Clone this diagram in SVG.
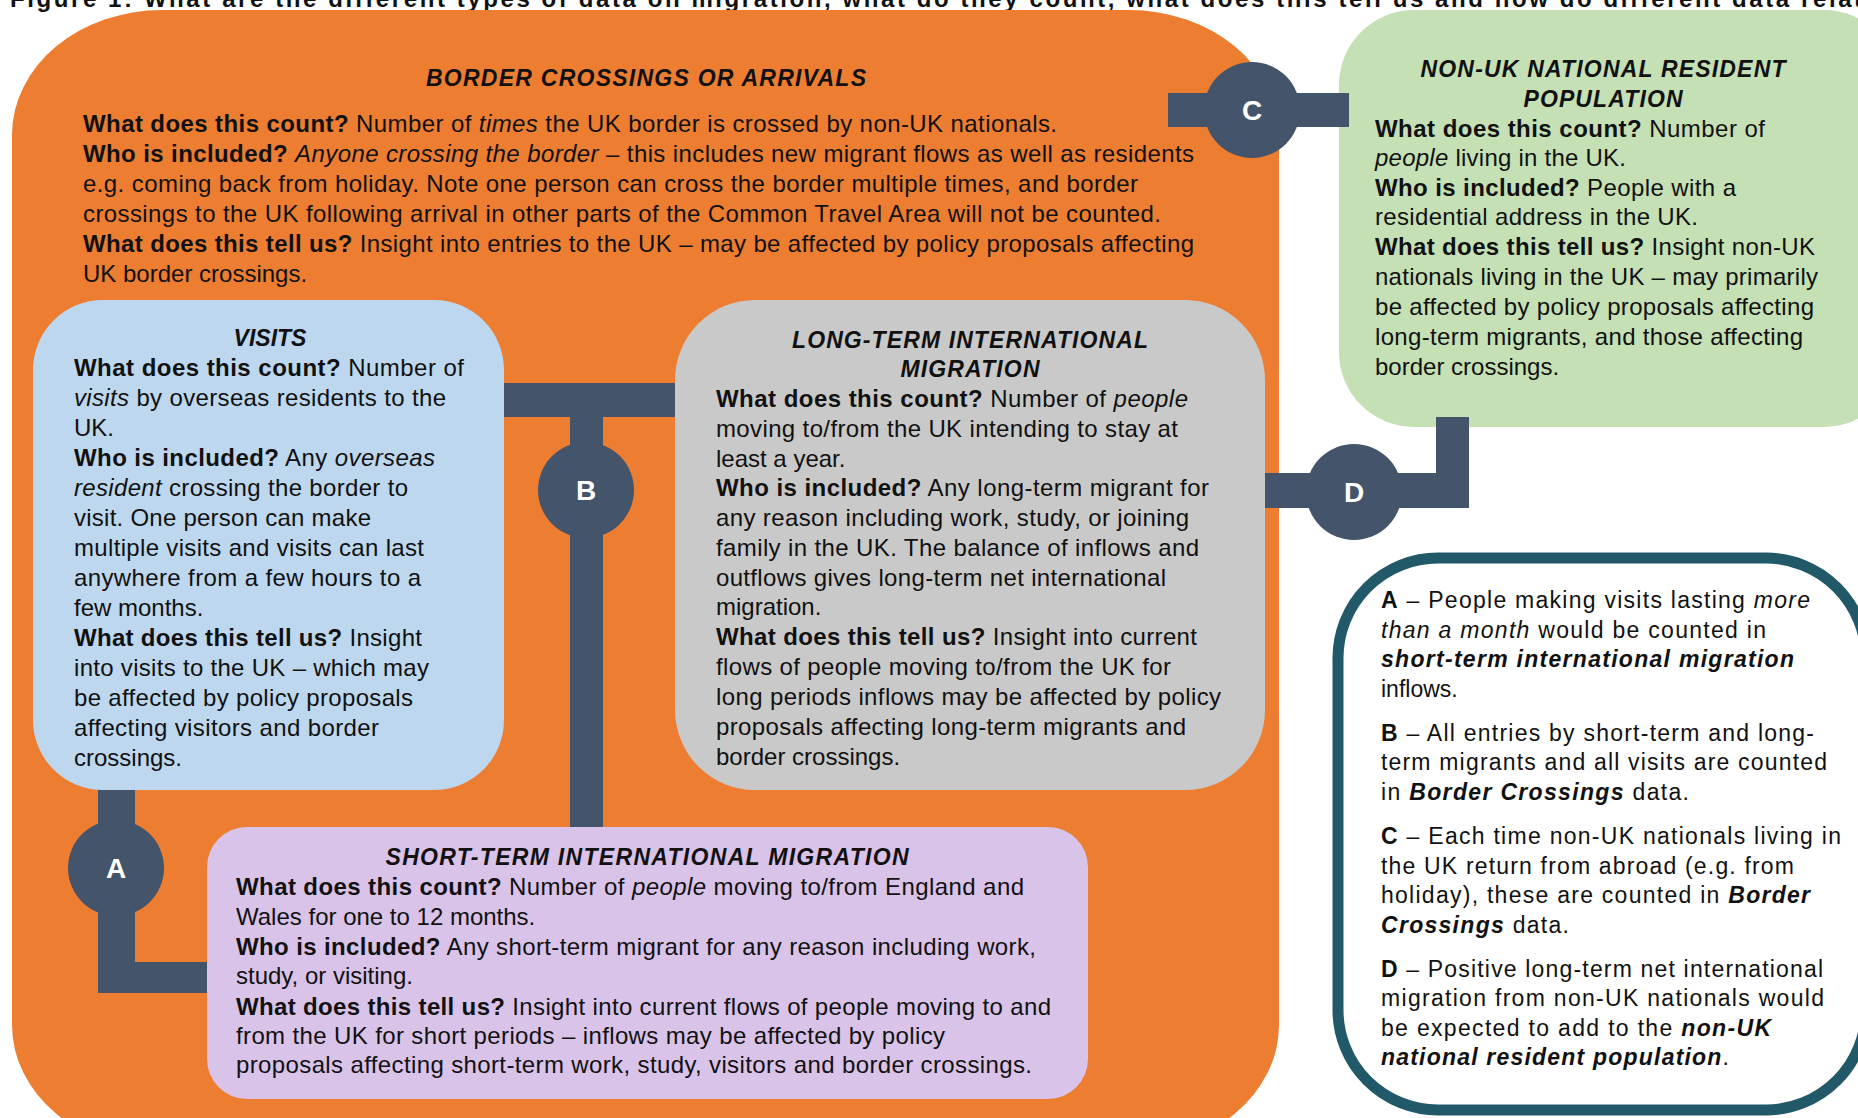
<svg xmlns="http://www.w3.org/2000/svg" width="1858" height="1118" viewBox="0 0 1858 1118">
<style>
text { font-family: "Liberation Sans", Arial, sans-serif; fill: #111; }
.t { font-size: 24px; }
.lg { font-size: 23px; }
.b { font-weight: bold; }
.i { font-style: italic; }
.bi { font-weight: bold; font-style: italic; }
.h { font-size: 23px; font-weight: bold; font-style: italic; text-anchor: middle; }
.lbl { font-size: 28px; font-weight: bold; fill: #ffffff; text-anchor: middle; }
.con { fill: #44546A; }
.fig { font-size: 24px; font-weight: bold; fill: #111; }
</style>
<rect x="0" y="0" width="1858" height="1118" fill="#ffffff"/>
<text class="fig" x="10" y="7" textLength="1868">Figure 1: What are the different types of data on migration, what do they count, what does this tell us and how do different data relate</text>

<g id="border-crossings">
<rect x="12" y="10" width="1267" height="1140" rx="150" ry="125" fill="#ED7D31"/>
<text class="h" x="646" y="86" textLength="440">BORDER CROSSINGS OR ARRIVALS</text>
<text class="t" x="83" y="132" textLength="974"><tspan class="b">What does this count?</tspan> Number of <tspan class="i">times</tspan> the UK border is crossed by non-UK nationals.</text>
<text class="t" x="83" y="162" textLength="1111"><tspan class="b">Who is included?</tspan> <tspan class="i">Anyone crossing the border</tspan> – this includes new migrant flows as well as residents</text>
<text class="t" x="83" y="192" textLength="1055">e.g. coming back from holiday. Note one person can cross the border multiple times, and border</text>
<text class="t" x="83" y="222" textLength="1078">crossings to the UK following arrival in other parts of the Common Travel Area will not be counted.</text>
<text class="t" x="83" y="252" textLength="1111"><tspan class="b">What does this tell us?</tspan> Insight into entries to the UK – may be affected by policy proposals affecting</text>
<text class="t" x="83" y="282">UK border crossings.</text>
</g>

<g id="non-uk-resident-population">
<rect x="1339" y="10" width="560" height="417" rx="75" ry="75" fill="#C5E0B4"/>
<text class="h" x="1603" y="77" textLength="365">NON-UK NATIONAL RESIDENT</text>
<text class="h" x="1603" y="107" textLength="159">POPULATION</text>
<text class="t" x="1375" y="137" textLength="390"><tspan class="b">What does this count?</tspan> Number of</text>
<text class="t" x="1375" y="166" textLength="251"><tspan class="i">people</tspan> living in the UK.</text>
<text class="t" x="1375" y="196" textLength="361"><tspan class="b">Who is included?</tspan> People with a</text>
<text class="t" x="1375" y="225" textLength="323">residential address in the UK.</text>
<text class="t" x="1375" y="255" textLength="440"><tspan class="b">What does this tell us?</tspan> Insight non-UK</text>
<text class="t" x="1375" y="285" textLength="443">nationals living in the UK – may primarily</text>
<text class="t" x="1375" y="315" textLength="439">be affected by policy proposals affecting</text>
<text class="t" x="1375" y="345" textLength="428">long-term migrants, and those affecting</text>
<text class="t" x="1375" y="375">border crossings.</text>
</g>

<g id="legend">
<rect x="1338" y="558" width="528" height="552" rx="100" ry="100" fill="#ffffff" stroke="#215968" stroke-width="11"/>
<text class="lg" x="1381" y="608" textLength="429"><tspan class="b">A</tspan> – People making visits lasting <tspan class="i">more</tspan></text>
<text class="lg" x="1381" y="638" textLength="385"><tspan class="i">than a month</tspan> would be counted in</text>
<text class="lg" x="1381" y="667" textLength="413"><tspan class="bi">short-term international migration</tspan></text>
<text class="lg" x="1381" y="697">inflows.</text>
<text class="lg" x="1381" y="741" textLength="433"><tspan class="b">B</tspan> – All entries by short-term and long-</text>
<text class="lg" x="1381" y="770" textLength="446">term migrants and all visits are counted</text>
<text class="lg" x="1381" y="800" textLength="308">in <tspan class="bi">Border Crossings</tspan> data.</text>
<text class="lg" x="1381" y="844" textLength="460"><tspan class="b">C</tspan> – Each time non-UK nationals living in</text>
<text class="lg" x="1381" y="874" textLength="413">the UK return from abroad (e.g. from</text>
<text class="lg" x="1381" y="903" textLength="429">holiday), these are counted in <tspan class="bi">Border</tspan></text>
<text class="lg" x="1381" y="933" textLength="188"><tspan class="bi">Crossings</tspan> data.</text>
<text class="lg" x="1381" y="977" textLength="442"><tspan class="b">D</tspan> – Positive long-term net international</text>
<text class="lg" x="1381" y="1006" textLength="443">migration from non-UK nationals would</text>
<text class="lg" x="1381" y="1036" textLength="390">be expected to add to the <tspan class="bi">non-UK</tspan></text>
<text class="lg" x="1381" y="1065" textLength="348"><tspan class="bi">national resident population</tspan>.</text>
</g>

<g id="connectors">
<g id="conn-A">
<rect class="con" x="98" y="770" width="37" height="223"/>
<rect class="con" x="98" y="962" width="120" height="31"/>
<circle class="con" cx="116" cy="868" r="48"/>
<text class="lbl" x="116" y="878">A</text>
</g>
<g id="conn-B">
<rect class="con" x="494" y="383" width="191" height="34"/>
<rect class="con" x="570" y="383" width="33" height="454"/>
<circle class="con" cx="586" cy="490" r="48"/>
<text class="lbl" x="586" y="500">B</text>
</g>
<g id="conn-C">
<rect class="con" x="1168" y="93" width="181" height="34"/>
<circle class="con" cx="1252" cy="110" r="48"/>
<text class="lbl" x="1252" y="120">C</text>
</g>
<g id="conn-D">
<rect class="con" x="1265" y="473" width="204" height="35"/>
<rect class="con" x="1436" y="417" width="33" height="91"/>
<circle class="con" cx="1354" cy="492" r="48"/>
<text class="lbl" x="1354" y="502">D</text>
</g>
</g>

<g id="visits">
<rect x="33" y="300" width="471" height="490" rx="70" ry="70" fill="#BDD7EE"/>
<text class="h" x="270" y="346">VISITS</text>
<text class="t" x="74" y="376" textLength="390"><tspan class="b">What does this count?</tspan> Number of</text>
<text class="t" x="74" y="406" textLength="372"><tspan class="i">visits</tspan> by overseas residents to the</text>
<text class="t" x="74" y="436">UK.</text>
<text class="t" x="74" y="466" textLength="361"><tspan class="b">Who is included?</tspan> Any <tspan class="i">overseas</tspan></text>
<text class="t" x="74" y="496" textLength="334"><tspan class="i">resident</tspan> crossing the border to</text>
<text class="t" x="74" y="526" textLength="297">visit. One person can make</text>
<text class="t" x="74" y="556" textLength="350">multiple visits and visits can last</text>
<text class="t" x="74" y="586" textLength="347">anywhere from a few hours to a</text>
<text class="t" x="74" y="616">few months.</text>
<text class="t" x="74" y="646" textLength="348"><tspan class="b">What does this tell us?</tspan> Insight</text>
<text class="t" x="74" y="676" textLength="355">into visits to the UK – which may</text>
<text class="t" x="74" y="706" textLength="339">be affected by policy proposals</text>
<text class="t" x="74" y="736" textLength="305">affecting visitors and border</text>
<text class="t" x="74" y="766">crossings.</text>
</g>

<g id="long-term-migration">
<rect x="675" y="300" width="590" height="490" rx="80" ry="80" fill="#C9C9C9"/>
<text class="h" x="970" y="348" textLength="356">LONG-TERM INTERNATIONAL</text>
<text class="h" x="970" y="377" textLength="139">MIGRATION</text>
<text class="t" x="716" y="407" textLength="472"><tspan class="b">What does this count?</tspan> Number of <tspan class="i">people</tspan></text>
<text class="t" x="716" y="437" textLength="462">moving to/from the UK intending to stay at</text>
<text class="t" x="716" y="467">least a year.</text>
<text class="t" x="716" y="496" textLength="493"><tspan class="b">Who is included?</tspan> Any long-term migrant for</text>
<text class="t" x="716" y="526" textLength="473">any reason including work, study, or joining</text>
<text class="t" x="716" y="556" textLength="483">family in the UK. The balance of inflows and</text>
<text class="t" x="716" y="586" textLength="450">outflows gives long-term net international</text>
<text class="t" x="716" y="615">migration.</text>
<text class="t" x="716" y="645" textLength="481"><tspan class="b">What does this tell us?</tspan> Insight into current</text>
<text class="t" x="716" y="675" textLength="455">flows of people moving to/from the UK for</text>
<text class="t" x="716" y="705" textLength="505">long periods inflows may be affected by policy</text>
<text class="t" x="716" y="735" textLength="470">proposals affecting long-term migrants and</text>
<text class="t" x="716" y="765">border crossings.</text>
</g>

<g id="short-term-migration">
<rect x="207" y="827" width="881" height="272" rx="40" ry="40" fill="#D9C3E9"/>
<text class="h" x="647" y="865" textLength="523">SHORT-TERM INTERNATIONAL MIGRATION</text>
<text class="t" x="236" y="895" textLength="788"><tspan class="b">What does this count?</tspan> Number of <tspan class="i">people</tspan> moving to/from England and</text>
<text class="t" x="236" y="925">Wales for one to 12 months.</text>
<text class="t" x="236" y="955" textLength="800"><tspan class="b">Who is included?</tspan> Any short-term migrant for any reason including work,</text>
<text class="t" x="236" y="984">study, or visiting.</text>
<text class="t" x="236" y="1015" textLength="815"><tspan class="b">What does this tell us?</tspan> Insight into current flows of people moving to and</text>
<text class="t" x="236" y="1044" textLength="709">from the UK for short periods – inflows may be affected by policy</text>
<text class="t" x="236" y="1073" textLength="796">proposals affecting short-term work, study, visitors and border crossings.</text>
</g>
</svg>
